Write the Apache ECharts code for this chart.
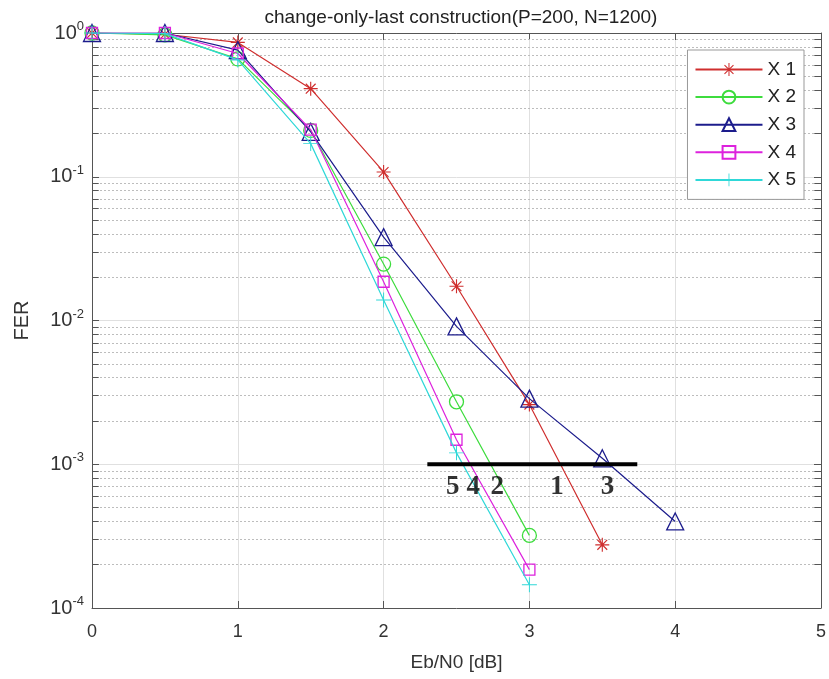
<!DOCTYPE html>
<html><head><meta charset="utf-8">
<script src="https://cdn.jsdelivr.net/npm/echarts@6/dist/echarts.min.js"></script>
<style>html,body{margin:0;padding:0;background:#fff}#c{width:829px;height:679px}</style>
</head><body><div id="c"></div>
<script>
const ebn0 = [0, 0.5, 1, 1.5, 2, 2.5, 3, 3.5, 4];
const seriesNames = ['X 1', 'X 2', 'X 3', 'X 4', 'X 5'];
const fer1 = [1.0, 0.98, 0.86, 0.41, 0.108, 0.0173, 0.0026, 0.000275];
const fer2 = [1.0, 0.97, 0.66, 0.21, 0.0247, 0.00272, 0.00032];
const fer3 = [1.0, 1.0, 0.76, 0.205, 0.038, 0.0091, 0.00286, 0.0011, 0.0004];
const fer4 = [1.0, 1.0, 0.72, 0.213, 0.0186, 0.00148, 0.000185];
const fer5 = [1.0, 0.99, 0.65, 0.17, 0.0139, 0.0012, 0.000145];
const refLineX = [2.3, 3.74];
const refLineY = 1e-3;
const refLabels = ['5', '4', '2', '1', '3'];
const refLabelX = [2.475, 2.615, 2.78, 3.19, 3.535];
const refLabelY = 6.9e-4;
const decades = [-4, -3, -2, -1];
const minorMult = [2, 3, 4, 5, 6, 7, 8, 9];

const colors = ['#cf2e2e', '#3ddc3d', '#1c1c8c', '#dd22dd', '#2fd8d8'];
const starPath = 'path://M9.2 0H10.8V20H9.2Z M0 9.2H20V10.8H0Z M2.4 3.6L3.6 2.4L17.6 16.4L16.4 17.6Z M3.6 17.6L2.4 16.4L16.4 2.4L17.6 3.6Z';
const plusPath = 'path://M9.35 0H10.65V20H9.35Z M0 9.35H20V10.65H0Z';
const symbols = [starPath, 'circle', 'triangle', 'rect', plusPath];
const sizes = [14, 14, 17, 11, 15];
const ferData = [fer1, fer2, fer3, fer4, fer5];

const minorVals = [];
decades.forEach(d => minorMult.forEach(m => minorVals.push(m * Math.pow(10, d))));

const tickLen = 0.046;
const minorLines = minorVals.map(v => [{coord: [0, v]}, {coord: [5, v]}]);
const minorTicks = [];
minorVals.forEach(v => {
  minorTicks.push([{coord: [0, v]}, {coord: [tickLen, v]}]);
  minorTicks.push([{coord: [5 - tickLen, v]}, {coord: [5, v]}]);
});

const dataSeries = ferData.map((arr, i) => {
  const hollow = (i === 1 || i === 2 || i === 3);
  return {
    name: seriesNames[i],
    type: 'line',
    data: arr.map((v, j) => [ebn0[j], v]),
    symbol: symbols[i],
    symbolSize: sizes[i],
    showAllSymbol: true,
    z: 3 + i,
    lineStyle: {color: colors[i], width: 1.2},
    itemStyle: hollow ? {color: 'rgba(255,255,255,0)', borderColor: colors[i], borderWidth: 1.3}
                      : {color: colors[i]},
    emphasis: {disabled: true},
    animation: false
  };
});

const yLabelFmt = v => {
  const e = Math.round(Math.log10(v));
  return '{b|10}{s|' + e + '}';
};

const option = {
  animation: false,
  backgroundColor: '#fff',
  title: {
    text: 'change-only-last construction(P=200, N=1200)',
    left: 456, top: 3, textAlign: 'center',
    textStyle: {fontFamily: 'Liberation Sans', fontSize: 19, fontWeight: 'normal', color: '#222'}
  },
  grid: {left: 92, right: 7, top: 33, bottom: 71, containLabel: false},
  legend: {
    data: seriesNames,
    orient: 'vertical',
    right: 25, top: 50,
    padding: [10, 8, 10, 7],
    itemWidth: 67, itemHeight: 16, itemGap: 8.6,
    backgroundColor: '#fff',
    borderColor: '#999', borderWidth: 1, borderRadius: 0,
    textStyle: {fontFamily: 'Liberation Sans', fontSize: 19, color: '#222'},
    z: 10
  },
  xAxis: [{
    type: 'value', min: 0, max: 5, interval: 1,
    axisLine: {lineStyle: {color: '#555', width: 1}},
    axisTick: {inside: true, length: 7, lineStyle: {color: '#555'}},
    axisLabel: {fontFamily: 'Liberation Sans', fontSize: 18, color: '#333', margin: 15},
    splitLine: {show: true, lineStyle: {color: '#e0e0e0', width: 1}},
    name: 'Eb/N0 [dB]', nameLocation: 'middle', nameGap: 45,
    nameTextStyle: {fontFamily: 'Liberation Sans', fontSize: 19, color: '#333'}
  }, {
    type: 'value', min: 0, max: 5, interval: 1, position: 'top',
    axisLine: {show: true, onZero: false, lineStyle: {color: '#555', width: 1}},
    axisTick: {show: true, inside: true, length: 7, lineStyle: {color: '#555'}},
    axisLabel: {show: false}, splitLine: {show: false}
  }],
  yAxis: [{
    type: 'log', logBase: 10, min: 1e-4, max: 1,
    axisLine: {show: true, lineStyle: {color: '#555', width: 1}},
    axisTick: {show: true, inside: true, length: 7, lineStyle: {color: '#555'}},
    axisLabel: {
      formatter: yLabelFmt, margin: 8,
      rich: {
        b: {fontFamily: 'Liberation Sans', fontSize: 20, color: '#333'},
        s: {fontFamily: 'Liberation Sans', fontSize: 13, color: '#333', padding: [0, 0, 13, 0]}
      }
    },
    splitLine: {show: true, lineStyle: {color: '#e0e0e0', width: 1}},
    name: 'FER', nameLocation: 'middle', nameGap: 60, nameRotate: 90,
    nameTextStyle: {fontFamily: 'Liberation Sans', fontSize: 20, color: '#333'}
  }, {
    type: 'log', logBase: 10, min: 1e-4, max: 1, position: 'right',
    axisLine: {show: true, onZero: false, lineStyle: {color: '#555', width: 1}},
    axisTick: {show: true, inside: true, length: 7, lineStyle: {color: '#555'}},
    axisLabel: {show: false}, splitLine: {show: false}
  }],
  series: dataSeries.concat([
    {
      name: 'ref-line', type: 'line',
      data: [[refLineX[0], refLineY], [refLineX[1], refLineY]],
      symbol: 'none',
      lineStyle: {color: '#000', width: 4},
      z: 9, silent: true,
      markLine: {
        silent: true, symbol: 'none', z: 1, label: {show: false},
        lineStyle: {color: '#bdbdbd', type: [2, 2], width: 1},
        emphasis: {disabled: true},
        data: minorLines
      }
    },
    {
      name: 'minor-ticks', type: 'line',
      data: [[0, 1]], symbol: 'none', lineStyle: {width: 0}, silent: true,
      markLine: {
        silent: true, symbol: 'none', z: 2, label: {show: false},
        lineStyle: {color: '#555', type: 'solid', width: 1},
        emphasis: {disabled: true},
        data: minorTicks
      }
    },
    {
      name: 'ref-labels', type: 'scatter',
      data: refLabels.map((t, i) => [refLabelX[i], refLabelY, t]),
      symbolSize: 0, silent: true, z: 9,
      label: {
        show: true, position: 'inside',
        formatter: p => p.value[2],
        fontFamily: 'Liberation Serif', fontWeight: 'bold', fontSize: 27, color: '#000'
      }
    }
  ])
};
const chart = echarts.init(document.getElementById('c'), null, {renderer: 'canvas'});
chart.setOption(option);
</script></body></html>
